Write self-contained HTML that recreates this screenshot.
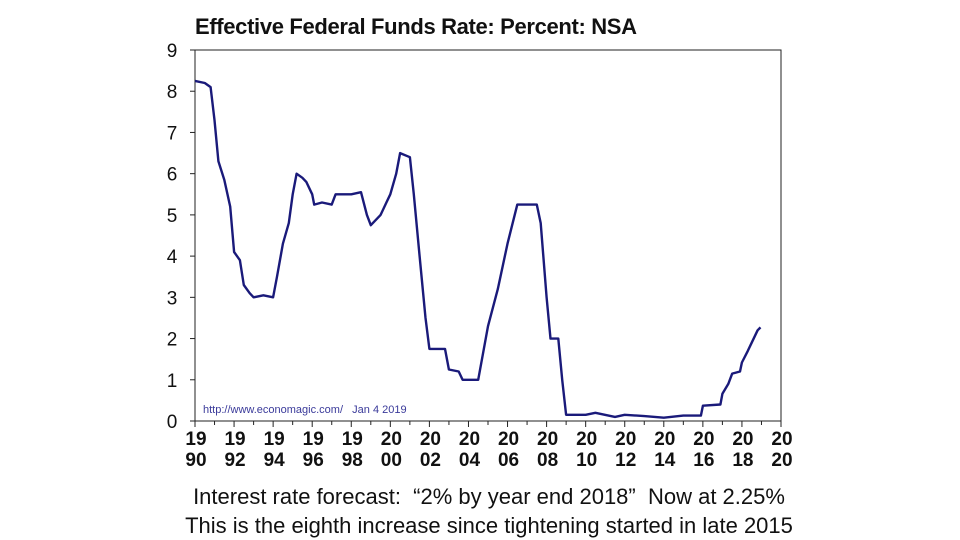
<!DOCTYPE html>
<html><head><meta charset="utf-8">
<style>
html,body{margin:0;padding:0;background:#fff;}
body{width:960px;height:540px;position:relative;overflow:hidden;font-family:"Liberation Sans",sans-serif;}
.cap{position:absolute;left:0;width:978px;text-align:center;font-size:22px;color:#111;}
</style></head>
<body>
<svg id="chart" width="960" height="480" style="position:absolute;left:0;top:0">
</svg>
<div class="cap" style="top:484px">Interest rate forecast:&nbsp; “2% by year end 2018”&nbsp; Now at 2.25%</div>
<div class="cap" style="top:513px">This is the eighth increase since tightening started in late 2015</div>
<script>
const years=[1990.0,1990.5,1990.8,1991.0,1991.2,1991.5,1991.8,1992.0,1992.3,1992.5,1992.8,1993.0,1993.5,1994.0,1994.2,1994.5,1994.8,1995.0,1995.2,1995.5,1995.7,1996.0,1996.1,1996.5,1997.0,1997.2,1998.0,1998.5,1998.8,1999.0,1999.5,1999.8,2000.0,2000.3,2000.5,2001.0,2001.2,2001.5,2001.8,2002.0,2002.8,2003.0,2003.5,2003.7,2004.5,2005.0,2005.5,2006.0,2006.5,2007.5,2007.7,2008.0,2008.2,2008.6,2008.8,2009.0,2010.0,2010.5,2011.5,2012.0,2013.0,2014.0,2015.0,2015.9,2016.0,2016.9,2017.0,2017.3,2017.5,2017.9,2018.0,2018.3,2018.5,2018.8,2018.95];
const rates=[8.25,8.2,8.1,7.3,6.3,5.85,5.2,4.1,3.9,3.3,3.1,3.0,3.05,3.0,3.5,4.3,4.8,5.5,6.0,5.9,5.8,5.5,5.25,5.3,5.25,5.5,5.5,5.55,5.0,4.75,5.0,5.3,5.5,6.0,6.5,6.4,5.5,4.0,2.5,1.75,1.75,1.25,1.2,1.0,1.0,2.3,3.2,4.3,5.25,5.25,4.8,3.0,2.0,2.0,1.0,0.15,0.15,0.2,0.1,0.15,0.12,0.08,0.13,0.13,0.37,0.4,0.66,0.9,1.15,1.2,1.42,1.7,1.9,2.2,2.27];
const yTicks=[0,1,2,3,4,5,6,7,8,9];
const xTicks=[1990,1992,1994,1996,1998,2000,2002,2004,2006,2008,2010,2012,2014,2016,2018,2020];
const L=195,R=781,T=50,B=421;
const xs=v=>L+(v-1990)/30*(R-L);
const ys=v=>B-v/9*(B-T);
const svg=document.getElementById('chart');
const NS='http://www.w3.org/2000/svg';
function mk(t,a){const e=document.createElementNS(NS,t);for(const k in a)e.setAttribute(k,a[k]);svg.appendChild(e);return e;}
let t=mk('text',{x:195,y:34,'font-size':22,'font-weight':'bold',fill:'#111','textLength':442});
t.textContent='Effective Federal Funds Rate: Percent: NSA';


let f=mk('path',{d:`M${L},${B}V${T}H${R}V${B}H${L}`,fill:'none',stroke:'#222','stroke-width':1});


yTicks.forEach(v=>{
 const tk=mk('line',{x1:L-5,x2:L,y1:ys(v),y2:ys(v),stroke:'#222'});
 
 
 const lb=mk('text',{x:172,y:ys(v)+7,'font-size':19,fill:'#111','text-anchor':'middle'});
 lb.textContent=v;
 
 
});
for(let y=1990;y<=2020;y++){
 const tk=mk('line',{x1:xs(y),x2:xs(y),y1:B,y2:B+(y%2?4:6),stroke:'#222'});
 
 
}
xTicks.forEach(v=>{
 const s=String(v);
 const lb=mk('text',{x:xs(v)+1,y:445,'font-size':19,'font-weight':'bold',fill:'#111','text-anchor':'middle'});
 lb.textContent=s.slice(0,2);
 
 
 const lb2=mk('text',{x:xs(v)+1,y:466,'font-size':19,'font-weight':'bold',fill:'#111','text-anchor':'middle'});
 lb2.textContent=s.slice(2);
 
 
});
let src=mk('text',{x:203,y:413,'font-size':11,fill:'#3a3a9a'});
src.textContent='http://www.economagic.com/\u00a0\u00a0\u00a0Jan 4 2019';


let d=years.map((y,i)=>(i?'L':'M')+xs(y).toFixed(1)+','+ys(rates[i]).toFixed(1)).join('');
let ln=mk('path',{d:d,fill:'none',stroke:'#1a1a7a','stroke-width':2.4,'stroke-linejoin':'round'});


</script>
</body></html>
